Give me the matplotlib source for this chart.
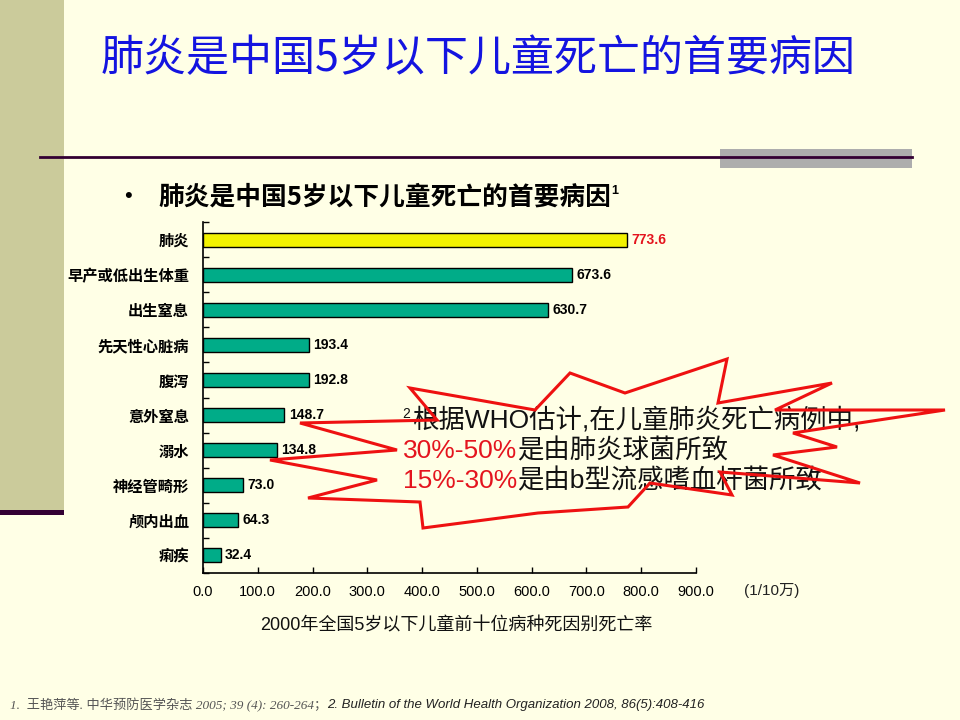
import matplotlib.pyplot as plt
from matplotlib.patches import Polygon, Rectangle
from matplotlib.transforms import ScaledTranslation

plt.rcParams['font.family'] = ['Liberation Sans', 'Noto Sans CJK SC', 'DejaVu Sans']

# data
causes = ['肺炎', '早产或低出生体重', '出生窒息', '先天性心脏病', '腹泻',
          '意外窒息', '溺水', '神经管畸形', '颅内出血', '痢疾']
rates = [773.6, 673.6, 630.7, 193.4, 192.8, 148.7, 134.8, 73.0, 64.3, 32.4]
x_ticks = [0, 100, 200, 300, 400, 500, 600, 700, 800, 900]

title = '肺炎是中国5岁以下儿童死亡的首要病因'
bullet = '肺炎是中国5岁以下儿童死亡的首要病因'
caption = '2000年全国5岁以下儿童前十位病种死因别死亡率'
unit = '(1/10万)'
note_1 = '根据WHO估计,在儿童肺炎死亡病例中,'
note_2 = ('30%-50%', '是由肺炎球菌所致')
note_3 = ('15%-30%', '是由b型流感嗜血杆菌所致')
ref_cn = '1.  王艳萍等. 中华预防医学杂志 2005; 39 (4): 260-264；'
ref_en = '2. Bulletin of the World Health Organization 2008, 86(5):408-416'

# outline of the red burst callout (slide pixels)
star = [(410, 388), (535, 410), (570, 373), (625, 393), (727, 359), (718, 403),
        (832, 383), (775, 410), (945, 410), (793, 433), (837, 447), (773, 455),
        (860, 483), (720, 472), (732, 495), (650, 483), (628, 507), (538, 513),
        (423, 528), (420, 502), (308, 498), (377, 480), (270, 460), (397, 450),
        (300, 423), (437, 420)]

bg = '#FFFFE6'
teal = '#00AC88'
yellow = '#F2F200'
red = '#E4141E'
cjk = ['Noto Sans CJK SC', 'DejaVu Sans']

fig = plt.figure(figsize=(9.6, 7.2), dpi=100, facecolor=bg)

# slide decoration layer
deco = fig.add_axes([0, 0, 1, 1], zorder=0)
deco.set_xlim(0, 960)
deco.set_ylim(720, 0)
deco.axis('off')
deco.add_patch(Rectangle((0, 0), 64, 510, color='#CBCB9B', lw=0))
deco.add_patch(Rectangle((0, 510), 64, 5, color='#330033', lw=0))
deco.add_patch(Rectangle((720, 149), 192, 19, color='#ADADAD', lw=0))
deco.plot([40, 912], [157, 157], color='#330033', lw=2)

# bar chart
ax = fig.add_axes([203 / 960, 1 - 573 / 720, 493 / 960, 351 / 720], zorder=1)
ax.set_facecolor('none')
ypos = list(range(len(causes)))
colors = [yellow] + [teal] * (len(causes) - 1)
ax.barh(ypos, rates, height=0.4, color=colors, edgecolor='black', linewidth=1)
for y, v in zip(ypos, rates):
    ax.text(v + 8, y, f'{v:.1f}', va='center', ha='left', fontsize=10,
            fontweight='bold', color=red if y == 0 else 'black')
ax.set_xlim(0, 900)
ax.set_ylim(len(causes) - 0.5, -0.5)
ax.set_xticks(x_ticks)
ax.set_xticklabels([f'{t:.1f}' for t in x_ticks], fontsize=10.5)
shift = ScaledTranslation(5 / 100, 0, fig.dpi_scale_trans)
for lbl in ax.get_xticklabels():
    lbl.set_transform(lbl.get_transform() + shift)
ax.set_yticks([i - 0.5 for i in range(len(causes) + 1)], minor=False)
ax.set_yticklabels([])
ax.set_yticks(ypos, minor=True)
ax.set_yticklabels(causes, minor=True, fontsize=11, fontweight='bold', family=cjk)
ax.tick_params(axis='y', which='major', direction='in', length=4, width=1)
ax.tick_params(axis='y', which='minor', length=0, pad=10)
ax.tick_params(axis='x', direction='in', length=4, width=1, pad=9)
ax.spines['top'].set_visible(False)
ax.spines['right'].set_visible(False)
for s in ('left', 'bottom'):
    ax.spines[s].set_linewidth(1.2)

# texts on the slide
ov = fig.add_axes([0, 0, 1, 1], zorder=2)
ov.set_xlim(0, 960)
ov.set_ylim(720, 0)
ov.axis('off')
ov.text(478, 59, title, ha='center', va='center', fontsize=31, color='#1414E0',
        fontweight='medium', family=cjk)
ov.text(128, 197, '•', ha='center', va='center', fontsize=16, color='black')
b = ov.text(158, 197, bullet, ha='left', va='center', fontsize=18.5, fontweight='bold', family=cjk)
ov.annotate('1', xycoords=b, xy=(1, 0.72), ha='left', va='center', fontsize=9, fontweight='bold')
ov.text(744, 590, unit, ha='left', va='center', fontsize=11, color='#222222')
ov.text(456, 626, caption, ha='center', va='center', fontsize=13, color='#111111')

ov.text(402, 414, '2', ha='left', va='center', fontsize=10, color='#111111')
ov.text(412, 420, note_1, ha='left', va='center', fontsize=19, color='#111111')
for line, ty in ((note_2, 451), (note_3, 481)):
    t = ov.text(403, ty, line[0], ha='left', va='center', fontsize=19, color=red)
    ov.annotate(line[1], xycoords=t, xy=(1, 0.5), va='center', ha='left',
                fontsize=19, color='#111111')

ov.add_patch(Polygon(star, closed=True, fill=False, edgecolor='#EE1111', lw=2.2,
                     joinstyle='miter', zorder=5))

r = ov.text(10, 705, ref_cn, ha='left', va='center', fontsize=9.5, style='italic',
            color='#555555', family=['Liberation Serif', 'Noto Sans CJK SC'])
ov.annotate(ref_en, xycoords=r, xy=(1, 0.5), va='center', ha='left', fontsize=9.5,
            style='italic', color='#222222')

fig.savefig('out.png', dpi=100, facecolor=bg)
